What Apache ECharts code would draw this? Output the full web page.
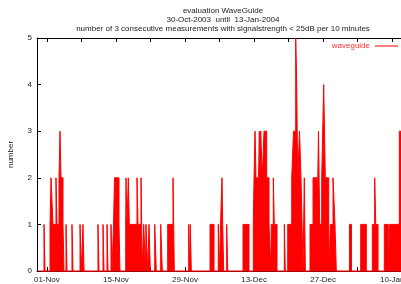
<!DOCTYPE html>
<html>
<head>
<meta charset="utf-8">
<script src="https://cdn.jsdelivr.net/npm/echarts@6/dist/echarts.min.js"></script>
<style>
  html, body { margin: 0; padding: 0; background: #fff; }
  #chart { width: 401px; height: 284px; }
</style>
</head>
<body>
<div id="chart"></div>
<script>
// range of the evaluation; the picture is cut off on the right, late on 11-Jan
const startDate = '2003-10-30T00:00:00Z';
const viewEnd = '2004-01-11T18:43:00Z';

// tick marks every week, labels every two weeks
const tickDates = ['2003-11-01', '2003-11-08', '2003-11-15', '2003-11-22', '2003-11-29', '2003-12-06',
    '2003-12-13', '2003-12-20', '2003-12-27', '2004-01-03', '2004-01-10'];
const labelDates = ['2003-11-01', '2003-11-15', '2003-11-29', '2003-12-13', '2003-12-27', '2004-01-10'];
const yTicks = [0, 1, 2, 3, 4, 5];

// counts: [days since start, count held until next entry]
const profile = [
    [0, 0], [1.42, 1], [1.62, 0], [2.64, 1], [2.84, 2], [3.24, 1], [3.85, 2], [4.05, 1],
    [4.46, 2], [4.66, 3], [4.86, 2], [5.27, 1], [5.47, 0], [5.88, 1], [6.08, 0], [7.09, 1],
    [7.30, 0], [8.72, 1], [9.02, 0], [9.32, 1], [9.53, 0], [12.36, 1], [12.57, 0], [13.38, 1],
    [13.58, 0], [14.19, 1], [14.39, 0], [15.00, 1], [15.20, 0], [15.51, 1], [15.71, 2], [16.62, 1],
    [16.82, 0], [17.98, 1], [18.04, 2], [18.24, 1], [18.51, 2], [18.71, 1], [20.27, 2], [20.47, 1],
    [21.08, 2], [21.34, 0], [21.63, 1], [21.99, 0], [22.09, 1], [22.44, 0], [22.70, 1], [22.97, 0],
    [23.86, 1], [24.18, 0], [25.07, 1], [25.40, 0], [26.49, 1], [27.57, 2], [27.83, 0], [30.75, 1],
    [30.95, 0], [31.07, 1], [31.28, 0], [35.07, 1], [35.88, 0], [36.75, 1], [36.99, 0], [37.20, 1],
    [37.50, 2], [37.64, 1], [37.84, 0], [38.45, 1], [38.66, 0], [41.76, 1], [42.97, 0], [43.84, 1],
    [43.99, 2], [44.19, 3], [44.39, 2], [44.82, 0], [44.90, 2], [45.06, 3], [45.26, 2], [45.34, 3],
    [45.67, 2], [46.01, 3], [46.56, 2], [47.03, 1], [47.39, 0], [47.49, 1], [47.90, 2], [48.10, 1],
    [48.65, 0], [50.13, 1], [50.33, 0], [50.82, 1], [51.63, 2], [51.99, 3], [52.44, 5], [52.64, 4],
    [52.84, 2], [53.21, 3], [53.51, 2], [53.72, 1], [53.92, 0], [54.18, 2], [54.39, 0], [55.34, 1],
    [55.95, 2], [56.76, 1], [57.06, 3], [57.30, 1], [57.71, 2], [58.11, 4], [58.44, 2], [59.13, 1],
    [59.25, 0], [59.45, 1], [60.00, 2], [60.40, 1], [60.67, 0], [63.34, 1], [63.75, 0], [65.61, 1],
    [66.75, 0], [67.97, 1], [68.45, 2], [68.66, 1], [69.12, 0], [70.40, 1], [71.21, 0], [71.49, 1],
    [73.44, 3], [73.99, 0], [75, 0]
];

const DAY = 24 * 3600 * 1000;
const MONTHS = ['Jan', 'Feb', 'Mar', 'Apr', 'May', 'Jun', 'Jul', 'Aug', 'Sep', 'Oct', 'Nov', 'Dec'];
const t0 = new Date(startDate).getTime();
const t1 = new Date(viewEnd).getTime();
const toTime = d => new Date(d).getTime();

// each change of count gets a vertical edge: old level then new level at the same time
const data = [];
profile.forEach((p, i) => {
    const t = t0 + p[0] * DAY;
    if (i > 0) data.push([t, profile[i - 1][1]]);
    data.push([t, p[1]]);
});

function dayLabel(v) {
    const d = new Date(v);
    const dd = d.getUTCDate();
    return (dd < 10 ? '0' : '') + dd + '-' + MONTHS[d.getUTCMonth()];
}

const font = 'Liberation Sans';
const chart = echarts.init(document.getElementById('chart'), null, { renderer: 'canvas' });

// plain value axes holding timestamps, so the week ticks can be placed exactly
const xBase = {
    type: 'value',
    min: t0,
    max: t1,
    axisLine: { lineStyle: { color: '#000', width: 1 } },
    axisTick: { show: true, inside: true, length: 4, lineStyle: { color: '#000' }, customValues: tickDates.map(toTime) },
    splitLine: { show: false }
};

chart.setOption({
    animation: false,
    title: {
        text: 'evaluation WaveGuide\n30-Oct-2003  until  13-Jan-2004\nnumber of 3 consecutive measurements with signalstrength < 25dB per 10 minutes',
        left: 218,
        top: 1,
        textAlign: 'center',
        textStyle: { fontFamily: font, fontSize: 8, fontWeight: 'normal', color: '#222', lineHeight: 9 }
    },
    legend: {
        data: ['waveguide'],
        right: 3,
        top: 42,
        padding: 0,
        align: 'right',
        icon: 'rect',
        itemWidth: 23,
        itemHeight: 1,
        itemGap: 5,
        textStyle: { fontFamily: font, fontSize: 8, color: '#ff3030' }
    },
    // the last label runs off the edge like in the original, so no auto shrinking
    grid: { left: 37, top: 38, right: 0, bottom: 13, outerBoundsMode: 'none', containLabel: false },
    xAxis: [Object.assign({}, xBase, {
        position: 'bottom',
        axisLine: { lineStyle: { color: '#a00000', width: 1 } },
        axisLabel: {
            customValues: labelDates.map(toTime),
            formatter: v => dayLabel(v),
            fontFamily: font, fontSize: 8, color: '#222', margin: 5
        }
    }), Object.assign({}, xBase, {
        position: 'top',
        axisLabel: { show: false }
    })],
    yAxis: {
        type: 'value',
        min: yTicks[0],
        max: yTicks[yTicks.length - 1],
        interval: 1,
        name: 'number',
        nameLocation: 'middle',
        nameGap: 22,
        nameRotate: 90,
        nameTextStyle: { fontFamily: font, fontSize: 8, color: '#222' },
        axisLine: { show: true, lineStyle: { color: '#000', width: 1 } },
        axisTick: { show: true, inside: true, length: 4, lineStyle: { color: '#000' } },
        axisLabel: { fontFamily: font, fontSize: 8, color: '#222', margin: 5 },
        splitLine: { show: false }
    },
    series: [{
        name: 'waveguide',
        type: 'line',
        showSymbol: false,
        symbol: 'none',
        lineStyle: { color: '#ff0000', width: 1 },
        itemStyle: { color: '#ff0000' },
        areaStyle: { color: '#ff0000', opacity: 1 },
        data: data
    }]
});
</script>
</body>
</html>
